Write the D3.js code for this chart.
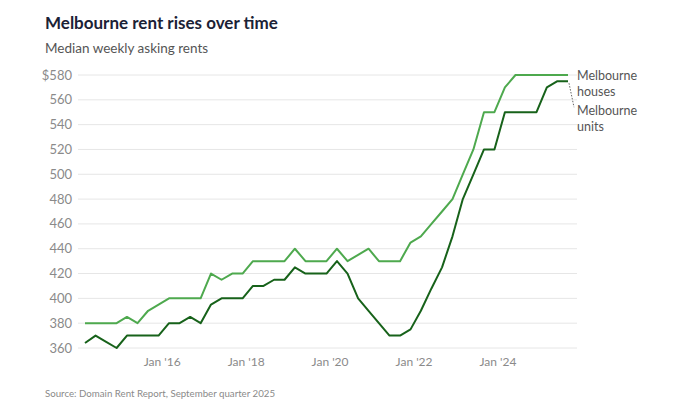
<!DOCTYPE html>
<html>
<head>
<meta charset="utf-8">
<script src="https://cdn.jsdelivr.net/npm/d3@7"></script>
<style>
  body { margin: 0; background: #fff; }
  svg { font-family: Lato, "Noto Sans", sans-serif; }
</style>
</head>
<body>
<svg id="chart" width="683" height="416"></svg>
<script>
// quarterly, Mar 2014 .. Sep 2025
var quarters = d3.range(47).map(function(i){ return new Date(2014, 2 + i*3, 1); });
var houses = [380,380,380,380,385,380,390,395,400,400,400,400,420,415,420,420,
              430,430,430,430,440,430,430,430,440,430,435,440,430,430,430,445,
              450,460,470,480,500,520,550,550,570,580,580,580,580,580,580];
var units  = [364,370,365,360,370,370,370,370,380,380,385,380,395,400,400,400,
              410,410,415,415,425,420,420,420,430,420,400,390,380,370,370,375,
              390,408,425,450,480,500,520,520,550,550,550,550,570,575,575];
var yTicks = [360,380,400,420,440,460,480,500,520,540,560,580];
var xTicks = [new Date(2016,0,1), new Date(2018,0,1), new Date(2020,0,1), new Date(2022,0,1), new Date(2024,0,1)];
var xTickLabels = ["Jan '16","Jan '18","Jan '20","Jan '22","Jan '24"];

var svg = d3.select("#chart");
var plotL = 78, plotR = 577, plotT = 75, plotB = 348;

var x = d3.scaleTime()
    .domain([quarters[0], quarters[quarters.length-1]])
    .range([85, 568]);
var y = d3.scaleLinear().domain([360, 580]).range([plotB, plotT]);

// titles
svg.append("text").attr("x", 45).attr("y", 29)
    .attr("font-size", 17).attr("font-weight", "bold").attr("fill", "#1b2236")
    .text("Melbourne rent rises over time");
svg.append("text").attr("x", 45).attr("y", 53)
    .attr("font-size", 13.5).attr("fill", "#555")
    .text("Median weekly asking rents");

// gridlines + y labels
var gy = svg.append("g");
gy.selectAll("line").data(yTicks).enter().append("line")
    .attr("x1", plotL).attr("x2", plotR)
    .attr("y1", function(d){ return y(d); }).attr("y2", function(d){ return y(d); })
    .attr("stroke", "#e6e6e6").attr("stroke-width", 1);
gy.selectAll("text").data(yTicks).enter().append("text")
    .attr("x", 72).attr("y", function(d){ return y(d) + 4.5; })
    .attr("text-anchor", "end").attr("font-size", 13).attr("fill", "#8a8a8a")
    .text(function(d){ return d == 580 ? "$" + d : d; });

// x labels
svg.append("g").selectAll("text").data(xTicks).enter().append("text")
    .attr("x", function(d){ return x(d); }).attr("y", 366)
    .attr("text-anchor", "middle").attr("font-size", 12).attr("fill", "#8a8a8a")
    .text(function(d, i){ return xTickLabels[i]; });

var line = d3.line()
    .x(function(d, i){ return x(quarters[i]); })
    .y(function(d){ return y(d); });

svg.append("path").datum(houses).attr("d", line)
    .attr("fill", "none").attr("stroke", "#4ea94e").attr("stroke-width", 2)
    .attr("stroke-linejoin", "round");
svg.append("path").datum(units).attr("d", line)
    .attr("fill", "none").attr("stroke", "#17621a").attr("stroke-width", 2)
    .attr("stroke-linejoin", "round");

// labels
var lastX = x(quarters[quarters.length-1]);
svg.append("line")
    .attr("x1", lastX + 1).attr("y1", y(units[units.length-1]) + 2)
    .attr("x2", lastX + 6).attr("y2", y(units[units.length-1]) + 26)
    .attr("stroke", "#666").attr("stroke-width", 1).attr("stroke-dasharray", "1.5,1.5");

function label(lines, yy){
  var t = svg.append("text").attr("x", 577).attr("y", yy)
      .attr("font-size", 12.5).attr("fill", "#555");
  lines.forEach(function(s, i){
    t.append("tspan").attr("x", 577).attr("dy", i ? 16 : 0).text(s);
  });
}
label(["Melbourne", "houses"], y(580) + 4.5);
label(["Melbourne", "units"], y(580) + 40);

svg.append("text").attr("x", 45).attr("y", 397)
    .attr("font-size", 9.7).attr("fill", "#8a8a8a")
    .text("Source: Domain Rent Report, September quarter 2025");
</script>
</body>
</html>
